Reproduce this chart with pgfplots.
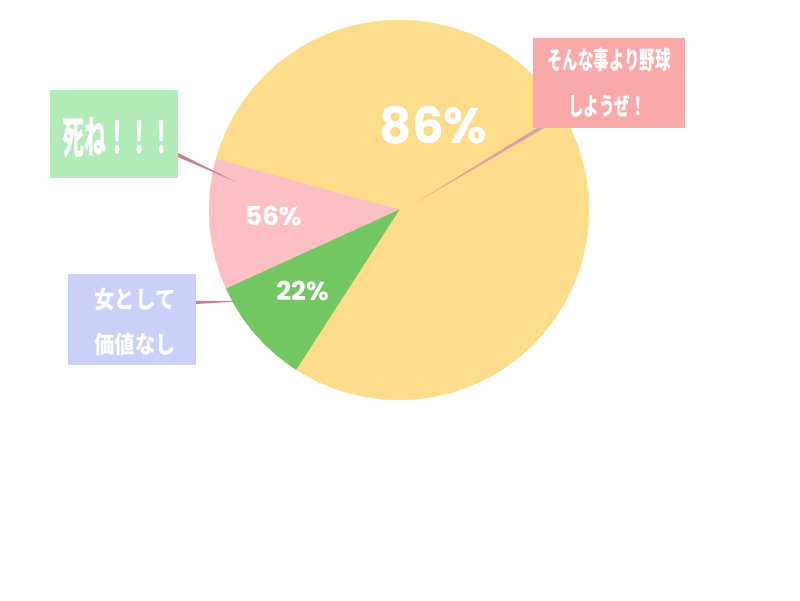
\documentclass[border=0pt]{standalone}
\usepackage{fontspec}
\usepackage{pgfplots}
\pgfplotsset{compat=1.18}
\newfontfamily\cjk{Noto Sans CJK JP}
\newfontfamily\numfont{Poppins}

\definecolor{sliceY}{HTML}{FDDC8B}
\definecolor{sliceP}{HTML}{FCBFC4}
\definecolor{sliceG}{HTML}{72C763}
\definecolor{boxG}{HTML}{B4EBBA}
\definecolor{boxB}{HTML}{C9D1FB}
\definecolor{boxP}{HTML}{F9A9AA}
\definecolor{ptrA}{HTML}{D9A0A8}
\definecolor{ptrB}{HTML}{C8808C}

\begin{document}
\begin{tikzpicture}
\begin{axis}[
    width=800pt, height=600pt, scale only axis,
    xmin=-399, xmax=401, ymin=-390, ymax=210,
    axis line style={draw=none},
    xtick=\empty, ytick=\empty,
    clip=false,
]
% pie slices, (angle, radius)
\addplot[fill=sliceY, draw=sliceY, line width=0.3pt, data cs=polar] coordinates {
    (0,0) (237.2,190) (240,190) (245,190) (250,190) (255,190) (260,190)
    (265,190) (270,190) (275,190) (280,190) (285,190) (290,190) (295,190)
    (300,190) (305,190) (310,190) (315,190) (320,190) (325,190) (330,190)
    (335,190) (340,190) (345,190) (350,190) (355,190) (360,190) (365,190)
    (370,190) (375,190) (380,190) (385,190) (390,190) (395,190) (400,190)
    (405,190) (410,190) (415,190) (420,190) (425,190) (430,190) (435,190)
    (440,190) (445,190) (450,190) (455,190) (460,190) (465,190) (470,190)
    (475,190) (480,190) (485,190) (490,190) (495,190) (500,190) (505,190)
    (510,190) (515,190) (520,190) (524.5,190)
} -- cycle;
\addplot[fill=sliceP, draw=sliceP, line width=0.3pt, data cs=polar] coordinates {
    (0,0) (164.5,190) (170,190) (175,190) (180,190) (185,190) (190,190)
    (195,190) (200,190) (204.5,190)
} -- cycle;
\addplot[fill=sliceG, draw=sliceG, line width=0.3pt, data cs=polar] coordinates {
    (0,0) (204.5,190) (210,190) (215,190) (220,190) (225,190) (230,190)
    (235,190) (237.2,190)
} -- cycle;

% callout pointers
\addplot[fill=ptrA, draw=none] coordinates {(18,8) (138,82) (145,82)} -- cycle;
\addplot[fill=ptrB, draw=none] coordinates {(-221,57) (-221,53) (-163,28)} -- cycle;
\addplot[fill=ptrB, draw=none] coordinates {(-203,-91) (-203,-94) (-152,-91)} -- cycle;

% callout boxes
\fill[boxG] (-349,120) rectangle (-221,32);
\fill[boxB] (-331,-64) rectangle (-203,-155);
\fill[boxP] (134,172) rectangle (286,82);

\node[text=white, xscale=0.5] at (-282,72.5)
    {\cjk\bfseries\fontsize{44}{48}\selectfont 死ね！！！};
\node[text=white, xscale=0.62] at (210,150)
    {\cjk\bfseries\fontsize{25}{28}\selectfont そんな事より野球};
\node[text=white, xscale=0.62] at (208,103.5)
    {\cjk\bfseries\fontsize{25}{28}\selectfont しようぜ！};
\node[text=white, xscale=0.85] at (-264,-89)
    {\cjk\bfseries\fontsize{24}{28}\selectfont 女として};
\node[text=white, xscale=0.85] at (-264,-134)
    {\cjk\bfseries\fontsize{24}{28}\selectfont 価値なし};

% percentages
\node[text=white] at (34.5,85) {\numfont\bfseries\fontsize{50}{56}\selectfont 86\%};
\node[text=white] at (-125.5,-6) {\numfont\bfseries\fontsize{26}{30}\selectfont 56\%};
\node[text=white] at (-96.5,-81) {\numfont\bfseries\fontsize{26}{30}\selectfont 22\%};
\end{axis}
\end{tikzpicture}
\end{document}
